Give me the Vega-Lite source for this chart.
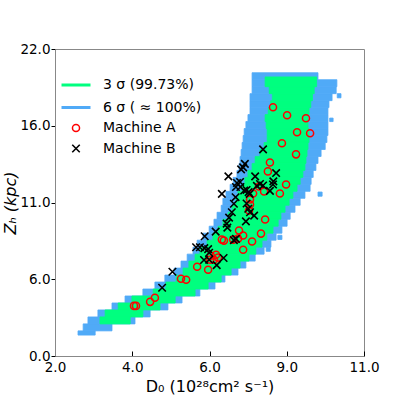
{
  "$schema": "https://vega.github.io/schema/vega-lite/v6.json",
  "width": 309,
  "height": 307,
  "autosize": {"type": "none"},
  "padding": {"left": 55, "top": 49, "right": 45, "bottom": 53},
  "config": {
    "font": "DejaVu Sans",
    "view": {"stroke": "#888888", "strokeWidth": 1},
    "axis": {"grid": false}
  },
  "datasets": {
    "band": [
      {"s": "6 σ ( ≈ 100%)", "y1": 19.8, "y2": 20.3, "x1": 7.74, "x2": 9.66},
      {"s": "6 σ ( ≈ 100%)", "y1": 19.3, "y2": 19.8, "x1": 7.74, "x2": 10.21},
      {"s": "6 σ ( ≈ 100%)", "y1": 18.8, "y2": 19.3, "x1": 7.74, "x2": 10.19},
      {"s": "6 σ ( ≈ 100%)", "y1": 18.3, "y2": 18.8, "x1": 7.68, "x2": 10.07},
      {"s": "6 σ ( ≈ 100%)", "y1": 17.8, "y2": 18.3, "x1": 7.68, "x2": 9.98},
      {"s": "6 σ ( ≈ 100%)", "y1": 17.3, "y2": 17.8, "x1": 7.68, "x2": 9.95},
      {"s": "6 σ ( ≈ 100%)", "y1": 16.8, "y2": 17.3, "x1": 7.62, "x2": 9.95},
      {"s": "6 σ ( ≈ 100%)", "y1": 16.3, "y2": 16.8, "x1": 7.56, "x2": 9.95},
      {"s": "6 σ ( ≈ 100%)", "y1": 15.8, "y2": 16.3, "x1": 7.51, "x2": 9.95},
      {"s": "6 σ ( ≈ 100%)", "y1": 15.3, "y2": 15.8, "x1": 7.48, "x2": 9.92},
      {"s": "6 σ ( ≈ 100%)", "y1": 14.8, "y2": 15.3, "x1": 7.45, "x2": 9.87},
      {"s": "6 σ ( ≈ 100%)", "y1": 14.3, "y2": 14.8, "x1": 7.42, "x2": 9.75},
      {"s": "6 σ ( ≈ 100%)", "y1": 13.8, "y2": 14.3, "x1": 7.39, "x2": 9.66},
      {"s": "6 σ ( ≈ 100%)", "y1": 13.3, "y2": 13.8, "x1": 7.36, "x2": 9.60},
      {"s": "6 σ ( ≈ 100%)", "y1": 12.8, "y2": 13.3, "x1": 7.30, "x2": 9.52},
      {"s": "6 σ ( ≈ 100%)", "y1": 12.3, "y2": 12.8, "x1": 7.19, "x2": 9.46},
      {"s": "6 σ ( ≈ 100%)", "y1": 11.8, "y2": 12.3, "x1": 7.10, "x2": 9.43},
      {"s": "6 σ ( ≈ 100%)", "y1": 11.3, "y2": 11.8, "x1": 6.98, "x2": 9.28},
      {"s": "6 σ ( ≈ 100%)", "y1": 10.8, "y2": 11.3, "x1": 6.89, "x2": 9.14},
      {"s": "6 σ ( ≈ 100%)", "y1": 10.3, "y2": 10.8, "x1": 6.84, "x2": 8.99},
      {"s": "6 σ ( ≈ 100%)", "y1": 9.8, "y2": 10.3, "x1": 6.72, "x2": 8.85},
      {"s": "6 σ ( ≈ 100%)", "y1": 9.3, "y2": 9.8, "x1": 6.63, "x2": 8.76},
      {"s": "6 σ ( ≈ 100%)", "y1": 8.8, "y2": 9.3, "x1": 6.49, "x2": 8.61},
      {"s": "6 σ ( ≈ 100%)", "y1": 8.3, "y2": 8.8, "x1": 6.31, "x2": 8.44},
      {"s": "6 σ ( ≈ 100%)", "y1": 7.8, "y2": 8.3, "x1": 6.14, "x2": 8.29},
      {"s": "6 σ ( ≈ 100%)", "y1": 7.3, "y2": 7.8, "x1": 6.02, "x2": 8.09},
      {"s": "6 σ ( ≈ 100%)", "y1": 6.8, "y2": 7.3, "x1": 5.85, "x2": 7.83},
      {"s": "6 σ ( ≈ 100%)", "y1": 6.3, "y2": 6.8, "x1": 5.67, "x2": 7.56},
      {"s": "6 σ ( ≈ 100%)", "y1": 5.8, "y2": 6.3, "x1": 5.47, "x2": 7.33},
      {"s": "6 σ ( ≈ 100%)", "y1": 5.3, "y2": 5.8, "x1": 5.20, "x2": 6.95},
      {"s": "6 σ ( ≈ 100%)", "y1": 4.8, "y2": 5.3, "x1": 4.91, "x2": 6.66},
      {"s": "6 σ ( ≈ 100%)", "y1": 4.3, "y2": 4.8, "x1": 4.56, "x2": 6.22},
      {"s": "6 σ ( ≈ 100%)", "y1": 3.8, "y2": 4.3, "x1": 4.04, "x2": 5.70},
      {"s": "6 σ ( ≈ 100%)", "y1": 3.3, "y2": 3.8, "x1": 3.66, "x2": 5.29},
      {"s": "6 σ ( ≈ 100%)", "y1": 2.8, "y2": 3.3, "x1": 3.25, "x2": 4.77},
      {"s": "6 σ ( ≈ 100%)", "y1": 2.3, "y2": 2.8, "x1": 2.96, "x2": 4.33},
      {"s": "6 σ ( ≈ 100%)", "y1": 1.8, "y2": 2.3, "x1": 2.82, "x2": 3.66},
      {"s": "6 σ ( ≈ 100%)", "y1": 1.5, "y2": 1.8, "x1": 2.67, "x2": 3.17},
      {"s": "6 σ ( ≈ 100%)", "y1": 18.5, "y2": 18.8, "x1": 10.22, "x2": 10.33},
      {"s": "6 σ ( ≈ 100%)", "y1": 16.8, "y2": 17.05, "x1": 10.0, "x2": 10.1},
      {"s": "6 σ ( ≈ 100%)", "y1": 11.45, "y2": 11.75, "x1": 9.66, "x2": 9.78},
      {"s": "6 σ ( ≈ 100%)", "y1": 8.35, "y2": 8.65, "x1": 8.49, "x2": 8.61},
      {"s": "6 σ ( ≈ 100%)", "y1": 7.5, "y2": 7.8, "x1": 8.15, "x2": 8.27},
      {"s": "3 σ (99.73%)", "y1": 19.3, "y2": 20.0, "x1": 8.12, "x2": 9.62},
      {"s": "3 σ (99.73%)", "y1": 18.8, "y2": 19.3, "x1": 8.24, "x2": 9.55},
      {"s": "3 σ (99.73%)", "y1": 18.3, "y2": 18.8, "x1": 8.33, "x2": 9.50},
      {"s": "3 σ (99.73%)", "y1": 17.8, "y2": 18.3, "x1": 8.28, "x2": 9.45},
      {"s": "3 σ (99.73%)", "y1": 17.3, "y2": 17.8, "x1": 8.21, "x2": 9.40},
      {"s": "3 σ (99.73%)", "y1": 16.8, "y2": 17.3, "x1": 8.12, "x2": 9.37},
      {"s": "3 σ (99.73%)", "y1": 16.3, "y2": 16.8, "x1": 8.15, "x2": 9.37},
      {"s": "3 σ (99.73%)", "y1": 15.8, "y2": 16.3, "x1": 8.18, "x2": 9.40},
      {"s": "3 σ (99.73%)", "y1": 15.3, "y2": 15.8, "x1": 8.18, "x2": 9.40},
      {"s": "3 σ (99.73%)", "y1": 14.8, "y2": 15.3, "x1": 8.09, "x2": 9.37},
      {"s": "3 σ (99.73%)", "y1": 14.3, "y2": 14.8, "x1": 7.97, "x2": 9.34},
      {"s": "3 σ (99.73%)", "y1": 13.8, "y2": 14.3, "x1": 7.83, "x2": 9.31},
      {"s": "3 σ (99.73%)", "y1": 13.3, "y2": 13.8, "x1": 7.74, "x2": 9.28},
      {"s": "3 σ (99.73%)", "y1": 12.8, "y2": 13.3, "x1": 7.62, "x2": 9.22},
      {"s": "3 σ (99.73%)", "y1": 12.3, "y2": 12.8, "x1": 7.53, "x2": 9.14},
      {"s": "3 σ (99.73%)", "y1": 11.8, "y2": 12.3, "x1": 7.45, "x2": 9.05},
      {"s": "3 σ (99.73%)", "y1": 11.3, "y2": 11.8, "x1": 7.33, "x2": 8.93},
      {"s": "3 σ (99.73%)", "y1": 10.8, "y2": 11.3, "x1": 7.27, "x2": 8.82},
      {"s": "3 σ (99.73%)", "y1": 10.3, "y2": 10.8, "x1": 7.16, "x2": 8.70},
      {"s": "3 σ (99.73%)", "y1": 9.8, "y2": 10.3, "x1": 7.04, "x2": 8.58},
      {"s": "3 σ (99.73%)", "y1": 9.3, "y2": 9.8, "x1": 6.89, "x2": 8.50},
      {"s": "3 σ (99.73%)", "y1": 8.8, "y2": 9.3, "x1": 6.75, "x2": 8.35},
      {"s": "3 σ (99.73%)", "y1": 8.3, "y2": 8.8, "x1": 6.60, "x2": 8.17},
      {"s": "3 σ (99.73%)", "y1": 7.8, "y2": 8.3, "x1": 6.43, "x2": 8.03},
      {"s": "3 σ (99.73%)", "y1": 7.3, "y2": 7.8, "x1": 6.22, "x2": 7.85},
      {"s": "3 σ (99.73%)", "y1": 6.8, "y2": 7.3, "x1": 6.08, "x2": 7.65},
      {"s": "3 σ (99.73%)", "y1": 6.3, "y2": 6.8, "x1": 5.90, "x2": 7.39},
      {"s": "3 σ (99.73%)", "y1": 5.8, "y2": 6.3, "x1": 5.73, "x2": 7.13},
      {"s": "3 σ (99.73%)", "y1": 5.3, "y2": 5.8, "x1": 5.53, "x2": 6.84},
      {"s": "3 σ (99.73%)", "y1": 4.8, "y2": 5.3, "x1": 5.23, "x2": 6.46},
      {"s": "3 σ (99.73%)", "y1": 4.3, "y2": 4.8, "x1": 4.86, "x2": 6.08},
      {"s": "3 σ (99.73%)", "y1": 3.8, "y2": 4.3, "x1": 4.24, "x2": 5.50},
      {"s": "3 σ (99.73%)", "y1": 3.3, "y2": 3.8, "x1": 3.84, "x2": 5.06},
      {"s": "3 σ (99.73%)", "y1": 2.8, "y2": 3.3, "x1": 3.46, "x2": 4.56},
      {"s": "3 σ (99.73%)", "y1": 2.3, "y2": 2.8, "x1": 3.31, "x2": 4.19}
    ],
    "pts": [
      {"s": "Machine A", "d": 8.35, "z": 17.83},
      {"s": "Machine A", "d": 8.76, "z": 17.25},
      {"s": "Machine A", "d": 9.31, "z": 17.04},
      {"s": "Machine A", "d": 9.05, "z": 16.03},
      {"s": "Machine A", "d": 9.43, "z": 15.96},
      {"s": "Machine A", "d": 8.61, "z": 15.24},
      {"s": "Machine A", "d": 9.02, "z": 14.45},
      {"s": "Machine A", "d": 8.26, "z": 13.87},
      {"s": "Machine A", "d": 8.20, "z": 13.23},
      {"s": "Machine A", "d": 8.73, "z": 12.29},
      {"s": "Machine A", "d": 8.55, "z": 11.65},
      {"s": "Machine A", "d": 7.94, "z": 12.15},
      {"s": "Machine A", "d": 8.09, "z": 11.79},
      {"s": "Machine A", "d": 7.77, "z": 11.65},
      {"s": "Machine A", "d": 7.68, "z": 11.21},
      {"s": "Machine A", "d": 7.68, "z": 10.86},
      {"s": "Machine A", "d": 7.65, "z": 10.42},
      {"s": "Machine A", "d": 8.12, "z": 9.78},
      {"s": "Machine A", "d": 7.36, "z": 8.99},
      {"s": "Machine A", "d": 7.48, "z": 8.63},
      {"s": "Machine A", "d": 8.00, "z": 8.77},
      {"s": "Machine A", "d": 7.33, "z": 8.41},
      {"s": "Machine A", "d": 7.74, "z": 8.20},
      {"s": "Machine A", "d": 7.48, "z": 7.62},
      {"s": "Machine A", "d": 6.86, "z": 8.34},
      {"s": "Machine A", "d": 6.92, "z": 8.27},
      {"s": "Machine A", "d": 7.19, "z": 8.34},
      {"s": "Machine A", "d": 6.69, "z": 7.26},
      {"s": "Machine A", "d": 6.54, "z": 7.19},
      {"s": "Machine A", "d": 6.52, "z": 6.90},
      {"s": "Machine A", "d": 6.63, "z": 6.90},
      {"s": "Machine A", "d": 6.75, "z": 7.05},
      {"s": "Machine A", "d": 6.46, "z": 6.18},
      {"s": "Machine A", "d": 6.14, "z": 6.40},
      {"s": "Machine A", "d": 5.67, "z": 5.54},
      {"s": "Machine A", "d": 5.82, "z": 5.46},
      {"s": "Machine A", "d": 4.77, "z": 3.88},
      {"s": "Machine A", "d": 4.91, "z": 4.17},
      {"s": "Machine A", "d": 4.30, "z": 3.59},
      {"s": "Machine A", "d": 4.36, "z": 3.59},
      {"s": "Machine B", "d": 8.06, "z": 14.81},
      {"s": "Machine B", "d": 7.53, "z": 13.77},
      {"s": "Machine B", "d": 7.48, "z": 13.52},
      {"s": "Machine B", "d": 7.42, "z": 13.37},
      {"s": "Machine B", "d": 7.05, "z": 12.87},
      {"s": "Machine B", "d": 7.83, "z": 12.87},
      {"s": "Machine B", "d": 8.44, "z": 13.11},
      {"s": "Machine B", "d": 8.36, "z": 12.51},
      {"s": "Machine B", "d": 8.35, "z": 12.29},
      {"s": "Machine B", "d": 7.30, "z": 12.40},
      {"s": "Machine B", "d": 7.39, "z": 12.47},
      {"s": "Machine B", "d": 7.40, "z": 12.11},
      {"s": "Machine B", "d": 7.27, "z": 12.11},
      {"s": "Machine B", "d": 7.51, "z": 11.86},
      {"s": "Machine B", "d": 7.58, "z": 11.90},
      {"s": "Machine B", "d": 7.67, "z": 11.62},
      {"s": "Machine B", "d": 7.64, "z": 11.74},
      {"s": "Machine B", "d": 7.88, "z": 12.19},
      {"s": "Machine B", "d": 7.97, "z": 12.33},
      {"s": "Machine B", "d": 8.06, "z": 12.22},
      {"s": "Machine B", "d": 8.26, "z": 11.83},
      {"s": "Machine B", "d": 6.86, "z": 11.62},
      {"s": "Machine B", "d": 7.26, "z": 11.38},
      {"s": "Machine B", "d": 7.21, "z": 10.91},
      {"s": "Machine B", "d": 7.15, "z": 10.30},
      {"s": "Machine B", "d": 7.07, "z": 9.92},
      {"s": "Machine B", "d": 7.00, "z": 9.49},
      {"s": "Machine B", "d": 7.58, "z": 10.93},
      {"s": "Machine B", "d": 7.63, "z": 10.55},
      {"s": "Machine B", "d": 7.68, "z": 10.30},
      {"s": "Machine B", "d": 7.80, "z": 10.06},
      {"s": "Machine B", "d": 7.56, "z": 9.65},
      {"s": "Machine B", "d": 7.02, "z": 9.20},
      {"s": "Machine B", "d": 6.68, "z": 8.91},
      {"s": "Machine B", "d": 6.36, "z": 8.58},
      {"s": "Machine B", "d": 7.21, "z": 8.30},
      {"s": "Machine B", "d": 7.27, "z": 8.39},
      {"s": "Machine B", "d": 6.11, "z": 7.79},
      {"s": "Machine B", "d": 6.22, "z": 7.79},
      {"s": "Machine B", "d": 6.35, "z": 7.73},
      {"s": "Machine B", "d": 6.46, "z": 7.66},
      {"s": "Machine B", "d": 6.49, "z": 7.40},
      {"s": "Machine B", "d": 6.34, "z": 6.88},
      {"s": "Machine B", "d": 6.49, "z": 6.90},
      {"s": "Machine B", "d": 6.91, "z": 7.02},
      {"s": "Machine B", "d": 6.71, "z": 6.51},
      {"s": "Machine B", "d": 5.42, "z": 6.04},
      {"s": "Machine B", "d": 5.12, "z": 4.89}
    ]
  },
  "layer": [
    {
      "data": {"name": "band"},
      "mark": {"type": "rect", "strokeWidth": 0.8},
      "encoding": {
        "x": {
          "field": "x1", "type": "quantitative",
          "scale": {"domain": [2, 11], "nice": false, "zero": false},
          "axis": {
            "title": "D₀ (10²⁸cm² s⁻¹)",
            "values": [2, 4.25, 6.5, 8.75, 11],
            "labelExpr": "datum.value == 6.5 ? '6.0' : format(round(datum.value), '.1f')",
            "domainColor": "#888888",
            "tickColor": "black",
            "tickSize": -5,
            "labelFontSize": 13.5,
            "labelColor": "black",
            "labelPadding": 9,
            "labelFlush": false,
            "labelOverlap": false,
            "titleFontSize": 16,
            "titleFontWeight": "normal",
            "titleColor": "black",
            "titlePadding": 5
          }
        },
        "x2": {"field": "x2"},
        "y": {
          "field": "y1", "type": "quantitative",
          "scale": {"domain": [0, 22], "nice": false, "zero": false},
          "axis": {
            "title": "Zₕ (kpc)",
            "values": [0, 5.5, 11, 16.5, 22],
            "labelExpr": "datum.value == 16.5 ? '16.0' : format(round(datum.value), '.1f')",
            "domainColor": "#888888",
            "tickColor": "black",
            "tickSize": 4,
            "labelFontSize": 13.5,
            "labelColor": "black",
            "labelPadding": 1,
            "labelFlush": false,
            "labelOverlap": false,
            "titleFontSize": 16,
            "titleFontWeight": "normal",
            "titleFontStyle": "italic",
            "titleColor": "black",
            "titlePadding": 1
          }
        },
        "y2": {"field": "y2"},
        "fill": {
          "field": "s", "type": "nominal",
          "scale": {
            "domain": ["3 σ (99.73%)", "6 σ ( ≈ 100%)"],
            "range": ["#00FF7F", "#50AAF7"]
          },
          "legend": null
        },
        "stroke": {
          "field": "s", "type": "nominal",
          "scale": {
            "domain": ["3 σ (99.73%)", "6 σ ( ≈ 100%)"],
            "range": ["#00FF7F", "#50AAF7"]
          },
          "legend": null
        }
      }
    },
    {
      "data": {"name": "pts"},
      "mark": {"type": "point", "filled": false, "opacity": 1},
      "encoding": {
        "x": {"field": "d", "type": "quantitative", "title": "D₀ (10²⁸cm² s⁻¹)"},
        "y": {"field": "z", "type": "quantitative", "title": "Zₕ (kpc)"},
        "color": {
          "field": "s", "type": "nominal",
          "scale": {
            "domain": ["3 σ (99.73%)", "6 σ ( ≈ 100%)", "Machine A", "Machine B"],
            "range": ["#00FF7F", "#50AAF7", "#FF0000", "#000000"]
          },
          "legend": {
            "title": null,
            "orient": "none",
            "legendX": 12,
            "legendY": 27,
            "padding": 0,
            "labelFontSize": 14,
            "labelColor": "black",
            "labelOffset": 18,
            "rowPadding": 6.5,
            "encode": {
              "symbols": {
                "update": {
                  "fill": {"value": "transparent"}
                }
              }
            }
          }
        },
        "shape": {
          "field": "s", "type": "nominal",
          "scale": {
            "domain": ["3 σ (99.73%)", "6 σ ( ≈ 100%)", "Machine A", "Machine B"],
            "range": ["M-2,0H2", "M-2,0H2", "circle", "M-1,-1L1,1M-1,1L1,-1"]
          }
        },
        "size": {
          "field": "s", "type": "nominal",
          "scale": {
            "type": "ordinal",
            "domain": ["3 σ (99.73%)", "6 σ ( ≈ 100%)", "Machine A", "Machine B"],
            "range": [210, 210, 50, 56]
          }
        },
        "strokeWidth": {
          "field": "s", "type": "nominal",
          "scale": {
            "type": "ordinal",
            "domain": ["3 σ (99.73%)", "6 σ ( ≈ 100%)", "Machine A", "Machine B"],
            "range": [3, 3, 1.5, 1.6]
          }
        }
      }
    }
  ]
}
